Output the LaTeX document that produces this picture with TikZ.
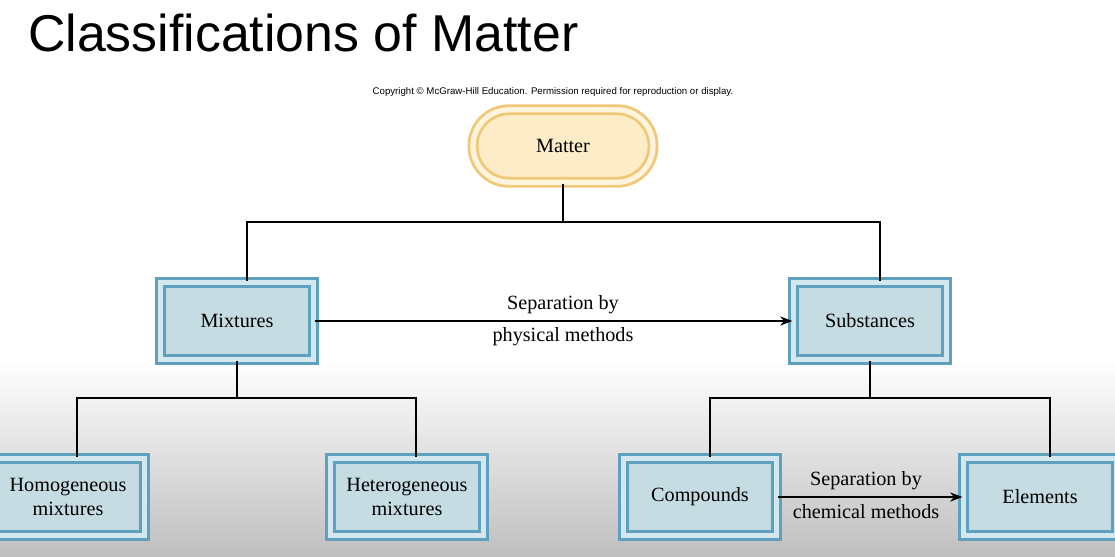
\documentclass[tikz,border=0pt]{standalone}
\usepackage{fontspec}
\setmainfont{Liberation Serif}
\newfontfamily\titlefont{Liberation Sans}
\usetikzlibrary{arrows.meta}
\definecolor{boxfill}{RGB}{196,220,226}
\definecolor{boxdark}{RGB}{95,160,190}
\definecolor{boxpale}{RGB}{210,232,238}
\definecolor{matfill}{RGB}{253,236,200}
\definecolor{matdark}{RGB}{240,200,120}
\definecolor{matpale}{RGB}{255,244,222}
\tikzset{
  classbox/.style={rectangle, fill=boxfill, draw=boxdark, double=boxpale,
    line width=1.6pt, double distance=3pt, minimum width=3.05cm,
    minimum height=1.55cm, align=center, font=\fontsize{11.5}{14}\selectfont},
  matterbox/.style={rectangle, rounded corners=0.72cm, fill=matfill, draw=matdark,
    double=matpale, line width=1.6pt, double distance=3pt, minimum width=3.6cm,
    minimum height=1.45cm, font=\fontsize{11.5}{14}\selectfont},
  tree/.style={draw, line width=0.9pt},
  sep/.style={draw, line width=0.9pt, -{Stealth[length=7pt]}},
  note/.style={font=\fontsize{11.5}{14}\selectfont}
}
\begin{document}
\begin{tikzpicture}[x=0.02cm,y=-0.02cm]
  % background
  \useasboundingbox (0,0) rectangle (1115,556);
  \fill[white] (0,0) rectangle (1115,556);
  \shade[top color=white, bottom color=black!25] (0,360) rectangle (1115,556);
  % title
  \node[anchor=west, font=\titlefont\fontsize{29.5}{34}\selectfont] (title) at (22,33) {Classifications of Matter};
  \node[font=\titlefont\fontsize{5.5}{6}\selectfont] (copy) at (553,92) {Copyright \textcopyright{} McGraw-Hill Education. Permission required for reproduction or display.};
  % boxes
  \node[matterbox] (matter) at (563,146) {Matter};
  \node[classbox] (mix) at (237,321) {Mixtures};
  \node[classbox] (subst) at (870,321) {Substances};
  \node[classbox] (homo) at (68,497) {Homogeneous\\mixtures};
  \node[classbox] (hetero) at (407,497) {Heterogeneous\\mixtures};
  \node[classbox] (comp) at (700,497) {Compounds};
  \node[classbox] (elem) at (1040,497) {Elements};
  % tree lines
  \coordinate (m1) at (563,222);
  \coordinate (m2) at (247,222);
  \coordinate (m3) at (880,222);
  \coordinate (x1) at (237,398);
  \coordinate (x2) at (77,398);
  \coordinate (x3) at (416,398);
  \coordinate (s1) at (870,398);
  \coordinate (s2) at (710,398);
  \coordinate (s3) at (1050,398);
  \draw[tree] (matter.south) -- (m1);
  \draw[tree] (m2 |- mix.north) -- (m2) -- (m3) -- (m3 |- subst.north);
  \draw[tree] (mix.south) -- (x1);
  \draw[tree] (x2 |- homo.north) -- (x2) -- (x3) -- (x3 |- hetero.north);
  \draw[tree] (subst.south) -- (s1);
  \draw[tree] (s2 |- comp.north) -- (s2) -- (s3) -- (s3 |- elem.north);
  % separation arrows
  \draw[sep] (mix.east) -- (subst.west);
  \node[note] (phys1) at (563,305) {Separation by};
  \node[note] (phys2) at (563,337) {physical methods};
  \draw[sep] (comp.east) -- (elem.west);
  \node[note] (chem1) at (866,481) {Separation by};
  \node[note] (chem2) at (866,512) {chemical methods};
\end{tikzpicture}
\end{document}
